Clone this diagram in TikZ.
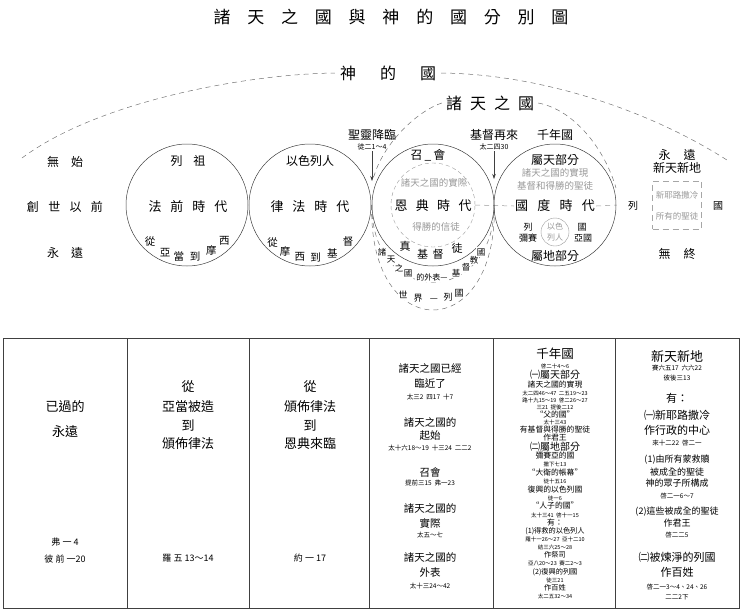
\documentclass[tikz,border=0pt]{standalone}
\usepackage{fontspec}
\setmainfont{Noto Sans CJK TC}
\usetikzlibrary{backgrounds,arrows.meta}
\newcommand\fsz[1]{\fontsize{#1}{#1}\selectfont}
\newcommand\spreadbox[2]{\makebox[#1][s]{#2}}

\begin{document}
\begin{tikzpicture}[x=1pt, y=-1pt,
    every node/.style={inner sep=1pt},
    era/.style={circle, draw=black!75, line width=0.5pt, minimum size=122pt},
    kdash/.style={draw=black!55, line width=0.5pt, dash pattern=on 5pt off 4pt},
    faint/.style={text=black!40},
    tlbl/.style={font=\fsz{12}},
    tbig/.style={font=\fsz{13}},
    tarc/.style={font=\fsz{10.5}},
    tref/.style={font=\fsz{7}},
    tcref/.style={font=\fsz{9}},
    pointer/.style={-{Stealth[length=5pt,width=3.5pt]}, black!75, line width=0.5pt}
]
\useasboundingbox (0,0) rectangle (742,611);

% title and the two kingdoms
\node[font=\fsz{17}] (title) at (391,17) {\spreadbox{355pt}{諸 天 之 國 與 神 的 國 分 別 圖}};
\node[font=\fsz{16}, inner sep=5pt] (gk) at (388,73) {\spreadbox{96pt}{神 的 國}};
\node[font=\fsz{16}, inner sep=4pt] (ztk) at (490,103) {\spreadbox{88pt}{諸 天 之 國}};
\coordinate (gkL) at (22,158);
\coordinate (gkR) at (730,162);
\coordinate (ztkL) at (374,176);
\coordinate (ztkR) at (616,188);

% before creation
\node[tlbl] (wushi) at (65,162) {\spreadbox{36pt}{無 始}};
\node[tlbl] (chuang) at (65,207) {\spreadbox{76pt}{創 世 以 前}};
\node[tlbl] (yong) at (65,253) {\spreadbox{36pt}{永 遠}};

% the four ages
\node[era] (fa) at (187,205) {};
\node[era] (lf) at (310,205) {};
\node[era] (eg) at (433,205) {};
\node[era] (kd) at (555,205) {};

\node[tlbl] (faTop) at (188,161) {\spreadbox{35pt}{列 祖}};
\node[tbig] (faName) at (188,207) {\spreadbox{79pt}{法 前 時 代}};
\foreach \a/\c [count=\i] in {135/從,115/亞,99/當,81/到,62/摩,44/西}
    \node[tarc] (faArc\i) at ([shift={(\a:52)}]fa.center) {\c};

\node[tlbl] (lfTop) at (310,161) {以色列人};
\node[tbig] (lfName) at (310,207) {\spreadbox{79pt}{律 法 時 代}};
\foreach \a/\c [count=\i] in {135/從,118/摩,101/西,84/到,65/基,44/督}
    \node[tarc] (lfArc\i) at ([shift={(\a:53)}]lf.center) {\c};

\node[tlbl] (egTop) at (428,155) {召\hspace{2pt}\_\hspace{2pt}會};
\node[circle, minimum size=84pt, draw=black!40, dash pattern=on 4pt off 3pt] (gin) at (433,205) {};
\node[faint, font=\fsz{9.5}] (reality) at (434,183) {諸天之國的實際};
\node[tbig] (egName) at (433,206) {\spreadbox{77pt}{恩 典 時 代}};
\node[faint, font=\fsz{9.5}] (winners) at (436,227) {得勝的信徒};
\foreach \a/\c [count=\i] in {124/真,102/基,84/督,61/徒}
    \node[font=\fsz{11}] (egArc\i) at ([shift={(\a:50)}]eg.center) {\c};

% outward appearance below the church
\foreach \x/\y/\c [count=\i] in {382/252/諸,391/260/天,399/268/之,408/273/國,456/273/基,466/267/督,474/260/教,481/252/國}
    \node[font=\fsz{8.5}, fill=white] (look\i) at (\x,\y) {\c};
\node[font=\fsz{8}, fill=white] (lookMid) at (432,277) {的外表—};
\foreach \x/\y/\c [count=\i] in {403/295/世,418/298/界,434/300/—,448/297/列,459/293/國}
    \node[font=\fsz{9}, fill=white] (world\i) at (\x,\y) {\c};

\node[font=\fsz{12}] (spirit) at (372,135) {聖靈降臨};
\node[tref] (spiritRef) at (372,147) {徒二1～4};
\coordinate (spiritTip) at (372,181);
\node[font=\fsz{12}] (comeback) at (494,135) {基督再來};
\node[tref] (comebackRef) at (494,147) {太二四30};
\coordinate (comebackTip) at (494,179);

\node[tlbl] (mill) at (555,135) {千年國};
\node[tlbl] (heav) at (555,160) {屬天部分};
\node[faint, font=\fsz{9.5}] (heavA) at (555,173) {諸天之國的實現};
\node[faint, font=\fsz{9.5}] (heavB) at (555,186) {基督和得勝的聖徒};
\node[tbig] (kdName) at (555,206) {\spreadbox{80pt}{國 度 時 代}};
\node[circle, draw=black!40, minimum size=28pt, inner sep=0pt, faint, align=center,
      font=\fontsize{8}{10.5}\selectfont] (isr) at (555,232) {以色\\列人};
\node[font=\fsz{9}] (natL) at (528,227) {列};
\node[font=\fsz{9}] (natL2) at (528,238) {彌賽};
\node[font=\fsz{9}] (natR) at (582,227) {國};
\node[font=\fsz{9}] (natR2) at (583,238) {亞國};
\node[tlbl] (earth) at (555,256) {屬地部分};

% eternity future
\node[tlbl] (yong2) at (677,155) {\spreadbox{37pt}{永 遠}};
\node[tlbl] (newhe) at (677,168) {新天新地};
\node[draw=black!35, dash pattern=on 6pt off 4pt, line width=0.6pt,
      minimum width=49pt, minimum height=48pt] (njbox) at (677,205) {};
\node[faint, font=\fsz{8.5}] (nj) at (677,195) {新耶路撒冷};
\node[faint, font=\fsz{8.5}] (saints) at (677,216) {所有的聖徒};
\node[tlbl] (wuzhong) at (677,254) {\spreadbox{37pt}{無 終}};
\node[font=\fsz{10}] (lieL) at (633,206) {列};
\node[font=\fsz{10}] (guoR) at (718,206) {國};

\begin{scope}[on background layer]
\draw[kdash] (gkL) .. controls (100,100) and (250,74) .. (gk.west);
\draw[kdash] (gk.east) .. controls (540,74) and (650,110) .. (gkR);
\draw[kdash] (ztk.west) .. controls (420,110) and (385,140) .. (ztkL);
\draw[kdash] (ztk.east) .. controls (575,110) and (605,150) .. (ztkR);
\draw[kdash] (eg.west) .. controls (372,308) and (494,308) .. (eg.east);
\draw[kdash] (eg.west) .. controls (368,345) and (498,345) .. (eg.east);
\draw[kdash, draw=black!40] (gin.east) -- (kdName.west);
\draw[kdash, draw=black!40] (kdName.east) -- (kd.east);
\end{scope}
\draw[pointer] (spiritRef) -- (spiritTip);
\draw[pointer] (comebackRef) -- (comebackTip);

% table
\draw[black!75, line width=0.7pt] (3,338) rectangle (739,608);
\foreach \x in {127,249,369,493,615}
    \draw[black!75, line width=0.7pt] (\x,338) -- (\x,608);

\node[tbig] (pastA) at (65,407) {已過的};
\node[tbig] (pastB) at (65,432) {永遠};
\node[tcref] (pastR1) at (65,542) {弗 一 4};
\node[tcref] (pastR2) at (65,559) {彼 前 一20};

\foreach \y/\txt [count=\i] in {387/從,407/亞當被造,426/到,444/頒佈律法}
    \node[tbig] (adam\i) at (188,\y) {\txt};
\node[tcref] (adamRef) at (188,558) {羅 五 13～14};

\foreach \y/\txt [count=\i] in {387/從,407/頒佈律法,426/到,444/恩典來臨}
    \node[tbig] (law\i) at (310,\y) {\txt};
\node[tcref] (lawRef) at (310,558) {約 一 17};

\foreach \y/\s/\txt [count=\i] in {368/10.5/諸天之國已經, 384/10.5/臨近了, 397/6.5/太三2 \ 四17 \ 十7,
    422/10.5/諸天之國的, 436/10.5/起始, 448/6.5/太十六18～19 \ 十三24 \ 二二2,
    472/10.5/召會, 483/6.5/提前三15 \ 弗一23,
    508/10.5/諸天之國的, 523/10.5/實際, 535/6.5/太五～七,
    557/10.5/諸天之國的, 572/10.5/外表, 586/6.5/太十三24～42}
    \node[font=\fsz{\s}] (grace\i) at (430,\y) {\txt};

\foreach \y/\s/\txt [count=\i] in {354/12.5/千年國, 366/5.5/啓二十4～6, 375/10/㈠屬天部分,
    385/7.8/諸天之國的實現, 393/5.5/太二四46～47 \ 二五19～23, 400/5.5/路十九15～19 \ 啓二26～27,
    407/5.5/三21 \ 提後二12, 415/7.8/“父的國”, 422/5.5/太十三43, 430/7.8/有基督與得勝的聖徒,
    438/7.8/作君王, 447/10/㈡屬地部分, 456/7.8/彌賽亞的國, 464/5.5/撒下七13,
    473/7.8/“大衛的帳幕”, 481/5.5/徒十五16, 490/7.8/復興的以色列國, 498/5.5/徒一6,
    506/7.8/“人子的國”, 515/5.5/太十三41 \ 啓十一15, 523/7.8/有：,
    531/7.2/(1)得救的以色列人, 539/5.5/羅十一26～27 \ 亞十二10, 547/5.5/結三六25～28,
    555/7.2/作祭司, 563/5.5/亞八20～23 \ 賽二2～3, 572/7.2/(2)復興的列國,
    580/5.5/徒三21, 588/7.2/作百姓, 596/5.5/太二五32～34}
    \node[font=\fsz{\s}] (kingdom\i) at (555,\y) {\txt};

\foreach \y/\s/\txt [count=\i] in {357/13/新天新地, 368/6.5/賽六五17 \ 六六22, 378/6.5/彼後三13,
    398/11/有：, 415/11/㈠新耶路撒冷, 430/11/作行政的中心, 443/6.5/來十二22 \ 啓二一,
    460/9/(1)由所有蒙救贖, 472/9/被成全的聖徒, 483/9/神的眾子所構成, 496/6.5/啓二一6～7,
    512/9/(2)這些被成全的聖徒, 523/9/作君王, 535/6.5/啓二二5,
    557/11/㈡被煉淨的列國, 572/11/作百姓, 587/6.5/啓二一3～4、24、26, 597/6.5/二二2下}
    \node[font=\fsz{\s}] (newearth\i) at (677,\y) {\txt};
\end{tikzpicture}
\end{document}
